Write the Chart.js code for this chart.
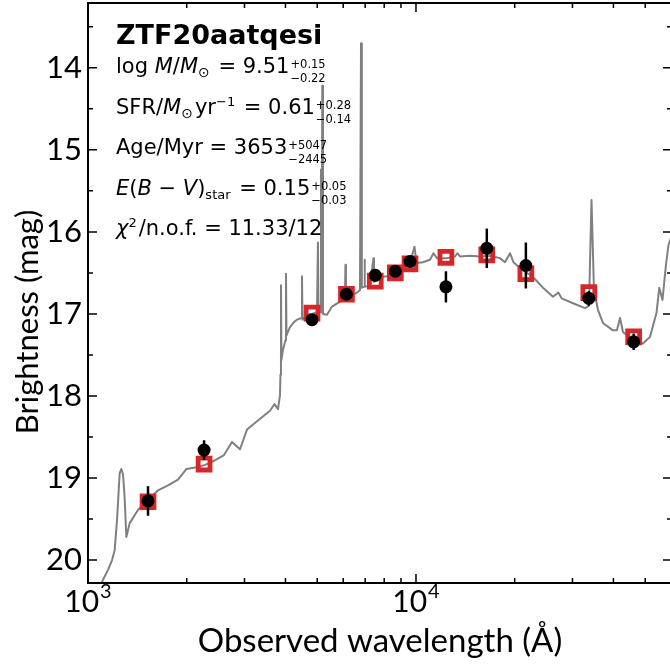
<!DOCTYPE html>
<html>
<head>
<meta charset="utf-8">
<script src="https://cdn.jsdelivr.net/npm/chart.js@4.4.0/dist/chart.umd.min.js"></script>
<style>
html, body { margin: 0; padding: 0; background: #fff; overflow: hidden; }
canvas { display: block; }
</style>
</head>
<body>
<canvas id="sed" width="674" height="671"></canvas>
<script>
const FONT = 'Lato, "DejaVu Sans", sans-serif'
const TEXT_FONT = '"DejaVu Sans", sans-serif'

// photometry (observed frame, Angstrom / AB mag)
const bands = ['FUV', 'NUV', 'g', 'r', 'i', 'z', 'y', 'J', 'H', 'K', 'W1', 'W2']
const bandWave = [1524, 2259, 4820, 6137, 7514, 8650, 9590, 12340, 16440, 21630, 33650, 46100]
const obsMag = [19.28, 18.66, 17.07, 16.76, 16.53, 16.48, 16.36, 16.67, 16.20, 16.41, 16.81, 17.34]
const obsErr = [0.18, 0.12, 0.03, 0.03, 0.03, 0.03, 0.04, 0.19, 0.24, 0.28, 0.09, 0.10]
const modelMag = [19.29, 18.83, 16.99, 16.76, 16.60, 16.50, 16.39, 16.31, 16.28, 16.51, 16.74, 17.28]

// best-fit model spectrum
const specWave = [1096, 1111, 1151, 1184, 1206, 1226, 1249, 1264, 1279, 1292,
    1309, 1340, 1420, 1524, 1635, 1754, 1881, 1997, 2149, 2274,
    2422, 2598, 2748, 2907, 3053, 3392, 3588, 3704, 3796, 3849,
    3862, 3876, 3889, 3930, 4000, 4015, 4029, 4130, 4246, 4337,
    4476, 4492, 4508, 4652, 4818, 4990, 5025, 5043, 5115, 5133,
    5158, 5180, 5206, 5354, 5545, 5865, 6073, 6095, 6117, 6380,
    6655, 6750, 6798, 6837, 6943, 6967, 6991, 7241, 7421, 7447,
    7767, 8157, 8630, 9128, 9587, 9895, 10035, 10503, 11033, 11307,
    11589, 12434, 13150, 13364, 13617, 14606, 15669, 16810, 18032, 18676,
    19346, 19828, 20753, 22737, 24390, 26170, 27155, 27810, 30107, 32750,
    33690, 34290, 34890, 35880, 37160, 39860, 41000, 41880, 42770, 45870,
    49210, 51690, 54110, 55190, 56440, 57840, 58860, 60340]
const specMag = [20.30, 20.24, 20.12, 20.00, 19.88, 19.51, 18.94, 18.89, 18.96, 19.21,
    19.72, 19.55, 19.39, 19.27, 19.15, 19.09, 19.02, 18.89, 18.87, 18.84,
    18.79, 18.72, 18.56, 18.65, 18.41, 18.26, 18.18, 18.10, 18.16, 17.99,
    17.74, 16.65, 17.56, 17.44, 17.32, 16.51, 17.26, 17.16, 17.10, 17.07,
    17.05, 16.54, 17.07, 17.01, 17.00, 16.98, 16.13, 16.98, 16.98, 15.24,
    16.98, 14.22, 17.00, 17.01, 16.91, 16.85, 16.80, 16.40, 16.80, 16.78,
    16.73, 16.71, 13.70, 16.68, 16.67, 16.34, 16.67, 16.65, 16.32, 16.61,
    16.55, 16.54, 16.49, 16.43, 16.38, 16.18, 16.38, 16.37, 16.34, 16.26,
    16.32, 16.32, 16.30, 16.26, 16.30, 16.29, 16.30, 16.29, 16.32, 16.37,
    16.26, 16.37, 16.44, 16.55, 16.68, 16.79, 16.74, 16.81, 16.87, 16.93,
    16.90, 15.61, 16.71, 16.95, 17.11, 17.20, 17.20, 17.05, 17.22, 17.32,
    17.36, 17.28, 16.99, 16.68, 16.83, 16.40, 16.16, 16.04]

const xTicks = [1000, 10000]
const xTickExp = ['3', '4']
const yTicks = [14, 15, 16, 17, 18, 19, 20]

const objName = 'ZTF20aatqesi'
// fit summary, one line per row: plain / italic / sub / sup / +- pair
const fitLines = [
    [['log '], ['M', 'it'], ['/'], ['M', 'it'], ['\u2299', 'sub'], [' = 9.51'], [['+0.15', '\u22120.22'], 'pair']],
    [['SFR/'], ['M', 'it'], ['\u2299', 'sub'], ['yr'], ['\u22121', 'sup'], [' = 0.61'], [['+0.28', '\u22120.14'], 'pair']],
    [['Age/Myr = 3653'], [['+5047', '\u22122445'], 'pair']],
    [['E', 'it'], ['('], ['B', 'it'], [' \u2212 '], ['V', 'it'], [')'], ['star', 'sub'], [' = 0.15'], [['+0.05', '\u22120.03'], 'pair']],
    [['\u03c7', 'it'], ['2', 'sup'], ['/n.o.f. = 11.33/12']]
]

const errorBars = {
    id: 'errorBars',
    beforeDatasetDraw(chart, args) {
        if (args.index !== 0) return
        const { ctx, scales: { x, y } } = chart
        ctx.save()
        ctx.strokeStyle = '#000'
        ctx.lineWidth = 2.5
        bandWave.forEach(function (w, i) {
            const px = x.getPixelForValue(w)
            ctx.beginPath()
            ctx.moveTo(px, y.getPixelForValue(obsMag[i] - obsErr[i]))
            ctx.lineTo(px, y.getPixelForValue(obsMag[i] + obsErr[i]))
            ctx.stroke()
        })
        ctx.restore()
    }
}

const axesFrame = {
    id: 'axesFrame',
    afterDraw(chart) {
        const { ctx, chartArea: a, scales: { x, y } } = chart
        ctx.save()
        ctx.strokeStyle = '#000'
        ctx.lineWidth = 1.5
        function xt(v, len) {
            const px = x.getPixelForValue(v)
            ctx.beginPath()
            ctx.moveTo(px, a.bottom); ctx.lineTo(px, a.bottom - len)
            ctx.moveTo(px, a.top); ctx.lineTo(px, a.top + len)
            ctx.stroke()
        }
        function yt(v, len) {
            const py = y.getPixelForValue(v)
            ctx.beginPath()
            ctx.moveTo(a.left, py); ctx.lineTo(a.left + len, py)
            ctx.moveTo(a.right, py); ctx.lineTo(a.right - len, py)
            ctx.stroke()
        }
        xTicks.forEach(function (d) {
            xt(d, 9)
            for (let m = 2; m <= 9; m++) {
                if (m * d < x.max) xt(m * d, 5)
            }
        })
        yTicks.forEach(function (v) {
            yt(v, 9)
            yt(v - 0.5, 5)
        })
        ctx.lineWidth = 2
        ctx.strokeRect(a.left, a.top, a.right - a.left, a.bottom - a.top)

        // 10^n labels
        ctx.fillStyle = '#000'
        ctx.textBaseline = 'alphabetic'
        xTicks.forEach(function (v, i) {
            const px = x.getPixelForValue(v)
            ctx.font = '30px ' + FONT
            const w1 = ctx.measureText('10').width
            ctx.font = '20px ' + FONT
            const w2 = ctx.measureText(xTickExp[i]).width
            const x0 = px - (w1 + w2 + 1) / 2
            ctx.font = '30px ' + FONT
            ctx.fillText('10', x0, 612)
            ctx.font = '20px ' + FONT
            ctx.fillText(xTickExp[i], x0 + w1 + 1, 598)
        })

        // y axis title
        ctx.translate(38, 322)
        ctx.rotate(-Math.PI / 2)
        ctx.textAlign = 'center'
        ctx.font = '31px ' + FONT
        ctx.fillText('Brightness (mag)', 0, 0)
        ctx.restore()
    }
}

const fitText = {
    id: 'fitText',
    afterDraw(chart) {
        const ctx = chart.ctx
        ctx.save()
        ctx.fillStyle = '#000'
        ctx.textBaseline = 'alphabetic'
        ctx.font = 'bold 27px ' + TEXT_FONT
        ctx.fillText(objName, 116, 44)
        const main = 21, small = 11.5
        fitLines.forEach(function (parts, row) {
            let cx = 116
            const by = 73 + row * 40.6
            parts.forEach(function (p) {
                const kind = p[1]
                if (kind === 'pair') {
                    ctx.font = small + 'px ' + TEXT_FONT
                    ctx.fillText(p[0][0], cx + 1, by - 5)
                    ctx.fillText(p[0][1], cx + 1, by + 9)
                    cx += Math.max(ctx.measureText(p[0][0]).width, ctx.measureText(p[0][1]).width)
                } else if (kind === 'sub' || kind === 'sup') {
                    ctx.font = (p[0] === '\u2299' ? 14 : 13) + 'px ' + TEXT_FONT
                    ctx.fillText(p[0], cx, by + (kind === 'sub' ? 4 : -8))
                    cx += ctx.measureText(p[0]).width + 2
                } else {
                    ctx.font = (kind === 'it' ? 'italic ' : '') + main + 'px ' + TEXT_FONT
                    ctx.fillText(p[0], cx, by)
                    cx += ctx.measureText(p[0]).width
                }
            })
        })
        ctx.restore()
    }
}

new Chart(document.getElementById('sed'), {
    type: 'scatter',
    data: {
        datasets: [
            {
                label: 'Observed',
                data: bandWave.map(function (w, i) { return { x: w, y: obsMag[i] } }),
                pointRadius: 6.5,
                backgroundColor: '#000',
                borderColor: '#000',
                borderWidth: 0
            },
            {
                label: 'Model photometry',
                data: bandWave.map(function (w, i) { return { x: w, y: modelMag[i] } }),
                pointStyle: 'rect',
                pointRadius: 8.4,
                borderWidth: 4.8,
                borderColor: '#d62728',
                backgroundColor: 'rgba(0,0,0,0)'
            },
            {
                label: 'Model spectrum',
                data: specWave.map(function (w, i) { return { x: w, y: specMag[i] } }),
                showLine: true,
                pointRadius: 0,
                borderColor: '#808080',
                borderWidth: 2,
                borderJoinStyle: 'round',
                tension: 0
            }
        ]
    },
    options: {
        responsive: false,
        animation: false,
        events: [],
        layout: { autoPadding: false, padding: { top: 3, right: 2, left: 0, bottom: 0 } },
        plugins: { legend: { display: false }, tooltip: { enabled: false } },
        scales: {
            x: {
                type: 'logarithmic',
                min: 1000,
                max: 60340,
                afterFit: function (s) { s.height = 88; s.paddingLeft = 0; s.paddingRight = 0 },
                afterBuildTicks: function (s) { s.ticks = xTicks.map(function (v) { return { value: v } }) },
                grid: { display: false, drawTicks: false },
                border: { display: false },
                ticks: { display: false },
                title: {
                    display: true,
                    text: 'Observed wavelength (\u00c5)',
                    color: '#000',
                    font: { family: FONT, size: 33 },
                    padding: { top: 0, bottom: 10 }
                }
            },
            y: {
                min: 13.21,
                max: 20.28,
                reverse: true,
                afterFit: function (s) { s.width = 88; s.paddingTop = 0; s.paddingBottom = 0 },
                afterBuildTicks: function (s) { s.ticks = yTicks.map(function (v) { return { value: v } }) },
                grid: { display: false, drawTicks: false },
                border: { display: false },
                ticks: { color: '#000', font: { family: FONT, size: 31 }, padding: 6 }
            }
        }
    },
    plugins: [errorBars, axesFrame, fitText]
})
</script>
</body>
</html>
